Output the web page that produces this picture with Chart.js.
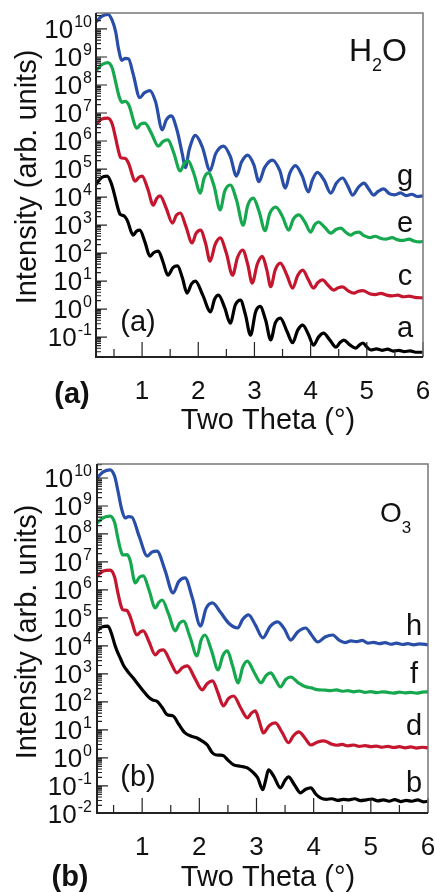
<!DOCTYPE html>
<html>
<head>
<meta charset="utf-8">
<script src="https://cdn.jsdelivr.net/npm/chart.js@4.4.1/dist/chart.umd.min.js"></script>
<style>
  html, body { margin: 0; padding: 0; background: #fff; }
  #wrap { position: relative; width: 435px; height: 892px; }
  canvas { position: absolute; left: 0; }
  #chartA { top: 0; }
  #chartB { top: 446px; }
</style>
</head>
<body>
<div id="wrap">
  <canvas id="chartA" width="435" height="446"></canvas>
  <canvas id="chartB" width="435" height="446"></canvas>
</div>
<script>
const FONT = '"Liberation Sans", Arial, sans-serif';

// tick positions
const xMajorTicks = [1, 2, 3, 4, 5, 6];
const xMinorTicks = [0.5, 1.5, 2.5, 3.5, 4.5, 5.5];
const yExpA = [10, 9, 8, 7, 6, 5, 4, 3, 2, 1, 0, -1];
const yExpB = [10, 9, 8, 7, 6, 5, 4, 3, 2, 1, 0, -1, -2];

// ---- panel (a), H2O : x = two theta, log = log10(intensity) ----
const xG = [0.18,0.28,0.39,0.47,0.53,0.58,0.64,0.70,0.76,0.84,0.96,1.04,1.14,1.24,1.36,1.43,1.52,1.62,1.72,1.77,1.84,1.95,2.07,2.21,2.31,2.45,2.57,2.68,2.77,2.88,2.99,3.08,3.18,3.32,3.45,3.55,3.63,3.73,3.85,3.96,4.03,4.12,4.24,4.36,4.46,4.57,4.66,4.75,4.85,4.95,5.03,5.12,5.20,5.30,5.40,5.50,5.60,5.70,5.80,5.90,6.00];
const logG = [10.25,10.45,10.52,10.3,9.9,9.3,8.88,8.95,8.93,8.4,7.55,7.72,7.8,7.4,6.4,6.75,6.9,6.4,5.5,5.05,5.7,6.2,5.8,4.95,5.55,5.82,5.45,4.75,5.25,5.5,5.15,4.55,5.05,5.32,4.95,4.32,4.85,5.12,4.75,4.18,4.6,4.88,4.6,4.14,4.5,4.68,4.4,4.07,4.35,4.5,4.3,4.07,4.2,4.29,4.12,4.08,4.15,4.05,4.1,4.02,4.04];

const xE = [0.18,0.28,0.39,0.47,0.53,0.59,0.64,0.70,0.76,0.91,0.97,1.05,1.16,1.29,1.37,1.46,1.56,1.68,1.75,1.82,1.92,2.04,2.10,2.18,2.28,2.39,2.47,2.57,2.68,2.80,2.88,2.98,3.08,3.19,3.27,3.38,3.50,3.61,3.69,3.79,3.90,4.00,4.07,4.14,4.25,4.36,4.45,4.54,4.62,4.71,4.78,4.86,4.95,5.05,5.15,5.25,5.35,5.45,5.55,5.65,5.75,5.85,5.95,6.00];
const logE = [8.5,8.72,8.8,8.6,8.1,7.6,7.38,7.42,7.3,6.46,6.6,6.64,6.3,5.82,5.98,6.04,5.6,4.93,5.2,5.29,4.85,4.14,4.65,4.86,4.4,3.54,4.2,4.43,3.9,3.0,3.7,3.96,3.5,2.8,3.4,3.64,3.3,2.82,3.2,3.36,3.1,2.75,3.0,3.11,2.92,2.71,2.84,2.89,2.75,2.64,2.72,2.75,2.62,2.55,2.6,2.52,2.5,2.55,2.47,2.45,2.5,2.42,2.4,2.42];

const xC = [0.18,0.28,0.39,0.47,0.53,0.58,0.62,0.70,0.76,0.88,0.94,1.00,1.10,1.20,1.26,1.32,1.43,1.54,1.61,1.68,1.78,1.89,1.96,2.04,2.13,2.21,2.30,2.39,2.50,2.61,2.70,2.79,2.88,2.96,3.05,3.14,3.22,3.29,3.37,3.46,3.58,3.68,3.77,3.86,3.96,4.05,4.13,4.21,4.31,4.41,4.49,4.57,4.67,4.77,4.85,4.93,5.05,5.15,5.25,5.35,5.45,5.55,5.65,5.75,5.85,6.00];
const logC = [6.6,6.78,6.82,6.6,6.1,5.65,5.4,5.38,5.2,4.57,4.7,4.75,4.3,3.71,3.95,4.04,3.6,3.07,3.35,3.43,2.95,2.36,2.7,2.82,2.35,1.71,2.3,2.54,2.0,1.21,1.85,2.11,1.6,0.93,1.6,1.88,1.4,0.8,1.4,1.64,1.2,0.75,1.2,1.39,1.05,0.75,0.95,1.04,0.85,0.68,0.76,0.79,0.65,0.57,0.64,0.66,0.55,0.52,0.56,0.5,0.47,0.5,0.44,0.46,0.42,0.4];

const xA = [0.18,0.28,0.38,0.45,0.52,0.57,0.61,0.68,0.74,0.84,0.90,0.96,1.05,1.14,1.21,1.29,1.37,1.46,1.55,1.63,1.72,1.80,1.88,1.95,2.08,2.22,2.29,2.36,2.47,2.57,2.66,2.75,2.84,2.93,3.02,3.10,3.20,3.29,3.37,3.46,3.58,3.68,3.77,3.86,3.96,4.05,4.14,4.23,4.34,4.45,4.52,4.59,4.70,4.80,4.87,4.93,5.00,5.07,5.17,5.27,5.37,5.47,5.57,5.67,5.77,5.87,6.00];
const logA = [4.45,4.7,4.75,4.5,4.0,3.6,3.38,3.33,3.15,2.64,2.78,2.82,2.4,1.89,2.02,2.07,1.7,1.21,1.48,1.54,1.1,0.57,0.9,1.0,0.5,-0.1,0.35,0.5,0.05,-0.5,0.15,0.32,-0.2,-0.93,-0.1,0.1,-0.4,-1.1,-0.5,-0.32,-0.8,-1.2,-0.75,-0.57,-0.9,-1.29,-1.0,-0.86,-1.1,-1.36,-1.2,-1.11,-1.28,-1.39,-1.28,-1.21,-1.35,-1.46,-1.42,-1.47,-1.43,-1.5,-1.47,-1.52,-1.49,-1.54,-1.54];

// ---- panel (b), O3 ----
const xH = [0.21,0.32,0.44,0.52,0.58,0.64,0.70,0.76,0.82,0.95,1.09,1.17,1.26,1.40,1.54,1.64,1.75,1.88,2.02,2.12,2.23,2.37,2.52,2.67,2.76,2.86,2.98,3.11,3.24,3.37,3.49,3.60,3.72,3.86,3.96,4.07,4.20,4.33,4.45,4.55,4.65,4.75,4.85,4.95,5.05,5.15,5.25,5.35,5.45,5.55,5.65,5.75,5.85,6.00];
const logH = [10.0,10.22,10.29,10.05,9.5,8.9,8.57,8.62,8.6,7.9,7.21,7.35,7.39,6.7,5.89,6.3,6.43,5.7,4.71,5.35,5.54,5.2,4.8,4.64,4.95,5.11,4.75,4.29,4.7,4.86,4.6,4.21,4.5,4.64,4.4,4.14,4.32,4.39,4.2,4.12,4.18,4.15,4.2,4.1,4.13,4.08,4.12,4.06,4.1,4.05,4.08,4.04,4.07,4.04];

const xF = [0.21,0.32,0.44,0.52,0.57,0.62,0.66,0.74,0.79,0.88,0.95,1.02,1.12,1.23,1.29,1.35,1.46,1.58,1.65,1.72,1.84,1.96,2.03,2.10,2.21,2.33,2.41,2.49,2.58,2.68,2.76,2.84,2.96,3.08,3.17,3.25,3.33,3.42,3.51,3.60,3.72,3.86,3.96,4.06,4.20,4.30,4.40,4.50,4.60,4.70,4.80,4.90,5.00,5.10,5.20,5.30,5.40,5.50,5.60,5.70,5.80,5.90,6.00];
const logF = [8.39,8.58,8.64,8.4,7.9,7.45,7.25,7.26,7.05,6.25,6.45,6.5,6.0,5.36,5.55,5.64,5.15,4.54,4.8,4.89,4.3,3.64,4.2,4.39,3.85,3.14,3.65,3.82,3.3,2.68,3.25,3.46,3.05,2.68,2.95,3.04,2.8,2.54,2.8,2.89,2.7,2.54,2.5,2.44,2.42,2.4,2.43,2.38,2.4,2.36,2.39,2.34,2.37,2.33,2.36,2.34,2.31,2.35,2.32,2.34,2.31,2.35,2.36];

const xD = [0.21,0.32,0.44,0.52,0.57,0.62,0.66,0.73,0.79,0.91,0.97,1.02,1.12,1.23,1.30,1.37,1.49,1.61,1.70,1.79,1.92,2.05,2.14,2.23,2.33,2.42,2.51,2.60,2.72,2.84,2.91,2.98,3.05,3.12,3.22,3.33,3.45,3.56,3.65,3.74,3.85,3.95,4.07,4.18,4.30,4.40,4.50,4.60,4.70,4.80,4.90,5.00,5.10,5.20,5.30,5.40,5.50,5.60,5.70,5.80,5.90,6.00];
const logD = [6.5,6.68,6.71,6.45,5.95,5.5,5.29,5.27,5.05,4.39,4.5,4.54,4.15,3.68,3.82,3.86,3.45,3.04,3.22,3.29,2.85,2.43,2.66,2.75,2.3,1.86,2.12,2.21,1.8,1.43,1.6,1.68,1.3,0.89,1.15,1.25,0.9,0.54,0.8,0.93,0.7,0.46,0.57,0.61,0.5,0.45,0.48,0.43,0.46,0.41,0.44,0.4,0.42,0.38,0.41,0.37,0.4,0.36,0.39,0.35,0.38,0.36];

const xB = [0.21,0.30,0.40,0.47,0.52,0.56,0.62,0.67,0.75,0.84,0.93,1.02,1.10,1.18,1.26,1.35,1.44,1.54,1.64,1.75,1.85,1.96,2.05,2.14,2.22,2.28,2.36,2.42,2.51,2.60,2.72,2.84,2.93,3.02,3.11,3.16,3.21,3.30,3.42,3.50,3.56,3.66,3.77,3.86,3.95,4.04,4.12,4.22,4.32,4.42,4.52,4.62,4.72,4.82,4.92,5.02,5.12,5.22,5.32,5.42,5.52,5.62,5.72,5.82,5.92,6.00];
const logB = [4.54,4.68,4.71,4.4,4.05,3.82,3.55,3.32,3.08,2.86,2.62,2.39,2.2,2.07,2.02,1.8,1.54,1.5,1.2,0.89,0.78,0.71,0.6,0.46,0.2,0.11,0.1,0.08,-0.1,-0.25,-0.3,-0.36,-0.5,-0.71,-1.14,-0.8,-0.43,-0.65,-1.07,-0.8,-0.68,-0.95,-1.25,-1.12,-1.07,-1.3,-1.43,-1.48,-1.46,-1.52,-1.48,-1.5,-1.46,-1.53,-1.5,-1.47,-1.54,-1.5,-1.55,-1.49,-1.56,-1.52,-1.55,-1.5,-1.57,-1.55];

const BLUE = 'rgb(40,78,168)';
const GREEN = 'rgb(22,168,78)';
const RED = 'rgb(196,22,46)';
const BLACK = '#000';

function toPoints(xs, logs) {
    return xs.map((x, i) => ({ x: x, y: Math.pow(10, logs[i]) }));
}

function curve(xs, logs, color) {
    return {
        data: toPoints(xs, logs),
        borderColor: color,
        borderWidth: 3.2,
        pointRadius: 0,
        fill: false,
        cubicInterpolationMode: 'monotone'
    };
}

function drawSub(ctx, x, y, main, sub, size, subSize, subDrop) {
    ctx.textAlign = 'left';
    let cx = x;
    for (let i = 0; i < main.length; i++) {
        ctx.font = size + 'px ' + FONT;
        ctx.fillText(main[i], cx, y);
        cx += ctx.measureText(main[i]).width;
        if (sub[i]) {
            ctx.font = subSize + 'px ' + FONT;
            ctx.fillText(sub[i], cx, y + subDrop);
            cx += ctx.measureText(sub[i]).width;
        }
    }
}

const paperAxes = {
    id: 'paperAxes',
    afterDraw(chart, args, o) {
        const ctx = chart.ctx;
        const a = chart.chartArea;
        const xs = chart.scales.x;
        const ys = chart.scales.y;
        ctx.save();

        // tick marks, pointing inwards
        ctx.strokeStyle = '#222';
        ctx.lineWidth = 1.2;
        ctx.beginPath();
        xMajorTicks.forEach(v => {
            const px = xs.getPixelForValue(v);
            ctx.moveTo(px, a.bottom);
            ctx.lineTo(px, a.bottom - 15);
        });
        xMinorTicks.forEach(v => {
            const px = xs.getPixelForValue(v);
            ctx.moveTo(px, a.bottom);
            ctx.lineTo(px, a.bottom - 8);
        });
        for (let e = o.exps[o.exps.length - 1] - 1; e <= o.exps[0]; e++) {
            for (let m = 1; m <= 9; m++) {
                const v = m * Math.pow(10, e);
                if (v < ys.min || v > ys.max) continue;
                const py = ys.getPixelForValue(v);
                ctx.moveTo(a.left, py);
                ctx.lineTo(a.left + (m === 1 ? 11 : 5), py);
            }
        }
        ctx.stroke();

        // frame
        ctx.strokeStyle = '#777';
        ctx.lineWidth = 1.5;
        ctx.beginPath();
        ctx.moveTo(a.left, a.top);
        ctx.lineTo(a.right, a.top);
        ctx.lineTo(a.right, a.bottom);
        ctx.stroke();
        ctx.strokeStyle = '#222';
        ctx.lineWidth = 2;
        ctx.beginPath();
        ctx.moveTo(a.left, a.top);
        ctx.lineTo(a.left, a.bottom);
        ctx.lineTo(a.right, a.bottom);
        ctx.stroke();

        ctx.fillStyle = '#111';
        ctx.textBaseline = 'alphabetic';

        // y tick labels 10^n
        o.exps.forEach(e => {
            const py = ys.getPixelForValue(Math.pow(10, e));
            const ex = String(e);
            ctx.font = '16px ' + FONT;
            const ew = ctx.measureText(ex).width;
            ctx.textAlign = 'left';
            ctx.fillText(ex, 92 - ew, py - 2);
            ctx.font = '26px ' + FONT;
            ctx.textAlign = 'right';
            ctx.fillText('10', 91 - ew, py + 9);
        });

        // x tick labels
        ctx.font = '26px ' + FONT;
        ctx.textAlign = 'center';
        xMajorTicks.forEach(v => {
            ctx.fillText(String(v), xs.getPixelForValue(v), o.xLabelY);
        });

        // axis titles
        ctx.font = '29px ' + FONT;
        ctx.fillText('Two Theta (\u00b0)', 268, o.xTitleY);
        ctx.save();
        ctx.translate(36, o.yTitleC);
        ctx.rotate(-Math.PI / 2);
        ctx.fillText('Intensity (arb. units)', 0, 0);
        ctx.restore();

        // panel tags
        ctx.font = 'bold 29px ' + FONT;
        ctx.fillText(o.tag, o.tagX, o.tagY);
        ctx.font = '29px ' + FONT;
        ctx.fillText(o.tag, 138, o.innerTagY);

        // curve letters
        o.letters.forEach(l => ctx.fillText(l[0], l[1], l[2]));

        // compound name
        const c = o.compound;
        drawSub(ctx, c.x, c.y, c.main, c.sub, c.size, c.subSize, c.drop);

        ctx.restore();
    }
};

function makeChart(id, sets, xMin, yMinLog, yMaxLog, pad, axisOpts) {
    return new Chart(document.getElementById(id), {
        type: 'line',
        data: { datasets: sets },
        options: {
            responsive: false,
            animation: false,
            devicePixelRatio: 1,
            events: [],
            layout: { padding: pad },
            scales: {
                x: { type: 'linear', min: xMin, max: 6, display: false },
                y: { type: 'logarithmic', min: Math.pow(10, yMinLog), max: Math.pow(10, yMaxLog), display: false }
            },
            plugins: {
                legend: { display: false },
                tooltip: { enabled: false },
                paperAxes: axisOpts
            }
        },
        plugins: [paperAxes]
    });
}

makeChart('chartA',
    [curve(xA, logA, BLACK), curve(xC, logC, RED), curve(xE, logE, GREEN), curve(xG, logG, BLUE)],
    0.18, -1.71, 10.57,
    { left: 96, top: 13, right: 12, bottom: 89 },
    {
        exps: yExpA, xLabelY: 399, xTitleY: 429, yTitleC: 177,
        tag: '(a)', tagX: 72, tagY: 403, innerTagY: 331,
        letters: [['g', 405, 185], ['e', 405, 232], ['c', 405, 285], ['a', 405, 337]],
        compound: { x: 349, y: 61, main: ['H', 'O'], sub: ['2', ''], size: 32, subSize: 18, drop: 10 }
    });

makeChart('chartB',
    [curve(xB, logB, BLACK), curve(xD, logD, RED), curve(xF, logF, GREEN), curve(xH, logH, BLUE)],
    0.21, -1.97, 10.5,
    { left: 97, top: 18, right: 7, bottom: 79 },
    {
        exps: yExpB, xLabelY: 409, xTitleY: 440, yTitleC: 186,
        tag: '(b)', tagX: 70, tagY: 440, innerTagY: 340,
        letters: [['h', 414, 189], ['f', 414, 237], ['d', 414, 289], ['b', 414, 346]],
        compound: { x: 380, y: 76, main: ['O'], sub: ['3'], size: 28, subSize: 17, drop: 11 }
    });
</script>
</body>
</html>
